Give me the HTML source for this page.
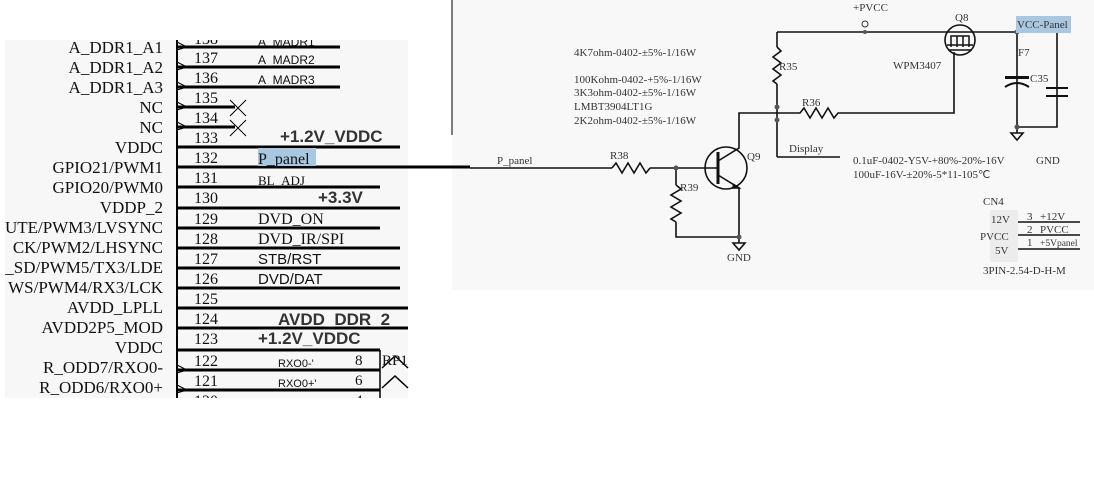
<!DOCTYPE html>
<html><head><meta charset="utf-8"><style>
body{margin:0;width:1094px;height:493px;background:#fff;overflow:hidden}
svg{display:block}
.s{font-family:"Liberation Serif",serif}
.a{font-family:"Liberation Sans",sans-serif}
</style></head><body>
<svg width="1094" height="493" viewBox="0 0 1094 493">
<defs><clipPath id="lp"><rect x="0" y="40" width="410" height="358"/></clipPath></defs>
<rect x="5" y="40" width="403" height="358" fill="#f7f7f7"/>
<rect x="452" y="0" width="642" height="290" fill="#f8f8f8"/>
<line x1="452" y1="0" x2="452" y2="135" stroke="#000" stroke-width="1"/>
<line x1="177" y1="167" x2="470" y2="167" stroke="#000" stroke-width="3"/>
<g clip-path="url(#lp)">
<line x1="177" y1="40" x2="177" y2="398" stroke="#000" stroke-width="2"/>
<g stroke="#000" stroke-width="3" fill="none">
<line x1="177" y1="47" x2="340" y2="47"/>
<line x1="177" y1="67" x2="340" y2="67"/>
<line x1="177" y1="87" x2="340" y2="87"/>
<line x1="177" y1="107" x2="235" y2="107"/>
<line x1="177" y1="127" x2="235" y2="127"/>
<line x1="177" y1="147" x2="400" y2="147"/>
<line x1="177" y1="187" x2="380" y2="187"/>
<line x1="177" y1="208" x2="400" y2="208"/>
<line x1="177" y1="228" x2="380" y2="228"/>
<line x1="177" y1="248" x2="400" y2="248"/>
<line x1="177" y1="268" x2="400" y2="268"/>
<line x1="177" y1="288" x2="400" y2="288"/>
<line x1="177" y1="308" x2="408" y2="308"/>
<line x1="177" y1="328" x2="408" y2="328"/>
<line x1="177" y1="350" x2="380" y2="350"/>
<line x1="177" y1="370" x2="380" y2="370"/>
<line x1="177" y1="390" x2="380" y2="390"/>
</g>
<line x1="380" y1="350" x2="380" y2="398" stroke="#000" stroke-width="1.5"/>
<path d="M382 368 L395 356 L408 368 M382 388 L395 376 L408 388" stroke="#000" stroke-width="1.5" fill="none"/>
<g stroke="#000" stroke-width="1" fill="none">
<path d="M177 42 L187 47 L177 50"/><path d="M177 62 L187 67 L177 70"/><path d="M177 82 L187 87 L177 90"/>
<path d="M177 102 L187 107 L177 110"/><path d="M177 122 L187 127 L177 130"/>
<path d="M177 365 L187 370 L177 373"/><path d="M177 385 L187 390 L177 393"/>
<path d="M230 100 L246 116 M246 100 L230 116 M230 120 L246 136 M246 120 L230 136"/>
</g>
<g class="s" font-size="17" text-anchor="end" fill="#111">
<text x="163" y="53">A_DDR1_A1</text><text x="163" y="73">A_DDR1_A2</text><text x="163" y="93">A_DDR1_A3</text>
<text x="163" y="113">NC</text><text x="163" y="133">NC</text><text x="163" y="153">VDDC</text>
<text x="163" y="173">GPIO21/PWM1</text><text x="163" y="193">GPIO20/PWM0</text><text x="163" y="213">VDDP_2</text>
<text x="163" y="233">UTE/PWM3/LVSYNC</text><text x="163" y="253">CK/PWM2/LHSYNC</text><text x="163" y="273">_SD/PWM5/TX3/LDE</text>
<text x="163" y="293">WS/PWM4/RX3/LCK</text><text x="163" y="313">AVDD_LPLL</text><text x="163" y="333">AVDD2P5_MOD</text>
<text x="163" y="353">VDDC</text><text x="163" y="373">R_ODD7/RXO0-</text><text x="163" y="393">R_ODD6/RXO0+</text>
</g>
<g class="s" font-size="16" fill="#111">
<text x="194" y="44">138</text><text x="194" y="63">137</text><text x="194" y="83">136</text><text x="194" y="103">135</text>
<text x="194" y="123">134</text><text x="194" y="143">133</text><text x="194" y="163">132</text><text x="194" y="183">131</text>
<text x="194" y="203">130</text><text x="194" y="224">129</text><text x="194" y="244">128</text><text x="194" y="264">127</text>
<text x="194" y="284">126</text><text x="194" y="304">125</text><text x="194" y="324">124</text><text x="194" y="344">123</text>
<text x="194" y="366">122</text><text x="194" y="386">121</text><text x="194" y="406">120</text>
</g>
<rect x="258" y="148" width="58" height="18" fill="#a9c8df"/>
<g fill="#111">
<text class="a" x="258" y="46" font-size="12">A_MADR1</text>
<text class="a" x="258" y="64" font-size="12">A_MADR2</text>
<text class="a" x="258" y="84" font-size="12">A_MADR3</text>
<text class="a" x="280" y="142" font-size="17" font-weight="bold" fill="#333">+1.2V_VDDC</text>
<text class="s" x="258" y="164" font-size="16">P_panel</text>
<text class="s" x="258" y="185" font-size="13">BL_ADJ</text>
<text class="a" x="318" y="203" font-size="17" font-weight="bold" fill="#333">+3.3V</text>
<text class="s" x="258" y="224" font-size="16">DVD_ON</text>
<text class="s" x="258" y="244" font-size="16">DVD_IR/SPI</text>
<text class="a" x="258" y="264" font-size="15">STB/RST</text>
<text class="a" x="258" y="284" font-size="15">DVD/DAT</text>
<text class="a" x="278" y="325" font-size="17" font-weight="bold" fill="#333">AVDD_DDR_2</text>
<text class="a" x="258" y="344" font-size="17" font-weight="bold" fill="#333">+1.2V_VDDC</text>
<text class="a" x="278" y="367" font-size="11">RXO0-'</text>
<text class="a" x="278" y="387" font-size="11">RXO0+'</text>
<text class="s" x="355" y="365" font-size="15">8</text>
<text class="s" x="355" y="385" font-size="15">6</text>
<text class="s" x="355" y="405" font-size="15">4</text>
<text class="s" x="382" y="365" font-size="15">RP1</text>
</g>
</g>
<g stroke="#111" stroke-width="1.6" fill="none">
<line x1="470" y1="168" x2="612" y2="168"/>
<path d="M612 168 l4 -5 l6 10 l6 -10 l6 10 l6 -10 l6 10 l4 -5"/>
<line x1="650" y1="168" x2="718" y2="168"/>
<line x1="676" y1="168" x2="676" y2="185"/>
<path d="M676 185 l5 4 l-10 6 l10 6 l-10 6 l10 6 l-10 6 l5 3"/>
<path d="M676 222 L676 237 L739 237"/>
<circle cx="726" cy="168" r="21"/>
<line x1="718" y1="152" x2="718" y2="184" stroke-width="3"/>
<path d="M718 161 L739 148 L739 113 L777 113"/>
<path d="M718 175 L739 188 L739 243"/>
<path d="M733 184 L739 188 L732 188" fill="#111"/>
<path d="M733 243 L745 243 L739 250 Z"/>
<path d="M777 32 L1057 32 L1057 127 L1017 127 L1017 133"/>
<path d="M1011 133 L1023 133 L1017 140 Z"/>
<line x1="777" y1="32" x2="777" y2="47"/>
<path d="M777 47 l4 4 l-8 6 l8 6 l-8 6 l8 6 l-8 6 l4 3"/>
<line x1="777" y1="84" x2="777" y2="157"/>
<path d="M777 157 L840 157"/>
<path d="M777 113 L800 113 l4 -5 l6 10 l6 -10 l6 10 l6 -10 l6 10 l4 -5 L954 113 L954 52"/>
<line x1="1017" y1="32" x2="1017" y2="127"/>
<circle cx="960" cy="40" r="15"/>
<line x1="1046" y1="88" x2="1068" y2="88" stroke-width="2"/>
<line x1="1046" y1="96" x2="1068" y2="96" stroke-width="2"/>
</g>
<rect x="1005" y="76" width="24" height="3" fill="#111"/>
<path d="M1005 87 Q1017 79 1029 87" stroke="#111" stroke-width="2" fill="none"/>
<g stroke="#111" stroke-width="1.5" fill="none"><path d="M947 45 L973 45 M951 47 L951 36 L969 36 L969 47 M957 36 L957 47 M963 36 L963 47 M948 50 L972 50"/></g>
<circle cx="865" cy="24" r="3" fill="none" stroke="#333"/>
<g fill="#555"><circle cx="865" cy="32" r="2"/><circle cx="777" cy="107" r="2.5"/><circle cx="777" cy="120" r="2.5"/><circle cx="676" cy="168" r="2.5"/><circle cx="739" cy="237" r="2.5"/><circle cx="1017" cy="32" r="2.5"/><circle cx="1017" cy="127" r="2.5"/></g>
<rect x="1016" y="16" width="55" height="17" fill="#a9c8df"/>
<rect x="990" y="210" width="28" height="52" fill="#ececec"/>
<g stroke="#111" stroke-width="1.5"><line x1="1018" y1="222" x2="1080" y2="222"/><line x1="1018" y1="235" x2="1080" y2="235"/><line x1="1018" y1="249" x2="1080" y2="249"/></g>
<g class="s" fill="#333" font-size="11">
<text x="574" y="56">4K7ohm-0402-±5%-1/16W</text>
<text x="574" y="83">100Kohm-0402-+5%-1/16W</text>
<text x="574" y="96">3K3ohm-0402-±5%-1/16W</text>
<text x="574" y="110">LMBT3904LT1G</text>
<text x="574" y="124">2K2ohm-0402-±5%-1/16W</text>
<text x="497" y="164">P_panel</text>
<text x="610" y="159">R38</text>
<text x="680" y="191">R39</text>
<text x="747" y="160">Q9</text>
<text x="727" y="261">GND</text>
<text x="779" y="70">R35</text>
<text x="802" y="106">R36</text>
<text x="789" y="152">Display</text>
<text x="853" y="11">+PVCC</text>
<text x="955" y="21">Q8</text>
<text x="893" y="69">WPM3407</text>
<text x="1017" y="28">VCC-Panel</text>
<text x="1018" y="56">F7</text>
<text x="1030" y="82">C35</text>
<text x="853" y="164">0.1uF-0402-Y5V-+80%-20%-16V</text>
<text x="1036" y="164">GND</text>
<text x="853" y="178">100uF-16V-±20%-5*11-105℃</text>
<text x="983" y="205">CN4</text>
<text x="991" y="223">12V</text>
<text x="980" y="240">PVCC</text>
<text x="995" y="254">5V</text>
<text x="1027" y="220">3</text><text x="1040" y="220">+12V</text>
<text x="1027" y="233">2</text><text x="1040" y="233">PVCC</text>
<text x="1027" y="246">1</text><text x="1040" y="246" font-size="9.5">+5Vpanel</text>
<text x="983" y="274">3PIN-2.54-D-H-M</text>
</g>
</svg>
</body></html>
